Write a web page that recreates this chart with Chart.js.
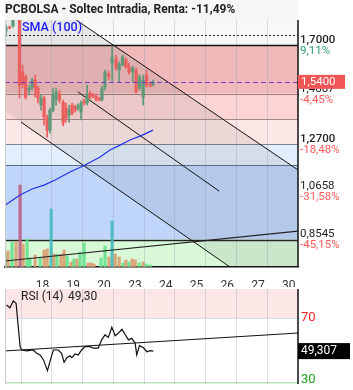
<!DOCTYPE html>
<html>
<head>
<meta charset="utf-8">
<script src="https://cdn.jsdelivr.net/npm/chart.js@4.4.1/dist/chart.umd.min.js"></script>
<style>
  html, body { margin: 0; padding: 0; background: #fff; }
  #wrap { position: relative; width: 353px; height: 390px; overflow: hidden; background: #e9e9e9; }
  #main { position: absolute; left: 0; top: 0; }
  #rsi { position: absolute; left: 0; top: 287px; }
</style>
</head>
<body>
<div id="wrap">
  <canvas id="main" width="353" height="287"></canvas>
  <canvas id="rsi" width="353" height="103"></canvas>
</div>
<script>
// Time axis: one unit = one trading day, grid line at the start of each day
const dayStarts = [0, 1, 2, 3, 4, 5, 6, 7, 8];
const dayLabels = ['18', '19', '20', '23', '24', '25', '26', '27', '30'];

// Hourly candles
const candleX = [-0.49,-0.37,-0.26,-0.05,0.05,0.15,0.26,0.36,0.46,0.55,0.65,0.75,0.85,0.94,1.04,1.14,1.25,1.37,1.46,1.56,1.66,1.76,1.85,1.95,2.05,2.15,2.24,2.34,2.44,2.54,2.63,2.73,2.85,2.96,3.09,3.19,3.30,3.41,3.51,3.63,3.74,3.85,3.97,4.08,4.20,4.29];
const candleOpen = [1.761,1.778,1.783,1.809,1.583,1.561,1.504,1.517,1.548,1.513,1.439,1.470,1.383,1.330,1.417,1.461,1.487,1.452,1.426,1.396,1.439,1.431,1.426,1.409,1.457,1.448,1.491,1.483,1.478,1.470,1.461,1.517,1.574,1.622,1.639,1.591,1.613,1.635,1.604,1.583,1.591,1.513,1.474,1.570,1.530,1.526];
const candleHigh = [1.787,1.783,1.813,1.813,1.613,1.570,1.526,1.557,1.570,1.522,1.483,1.478,1.396,1.426,1.513,1.513,1.504,1.461,1.448,1.439,1.448,1.439,1.444,1.457,1.465,1.526,1.500,1.491,1.487,1.474,1.522,1.591,1.587,1.691,1.657,1.626,1.657,1.644,1.622,1.609,1.600,1.570,1.570,1.591,1.535,1.548];
const candleLow = [1.739,1.770,1.778,1.470,1.513,1.465,1.483,1.504,1.474,1.448,1.417,1.352,1.300,1.317,1.409,1.439,1.448,1.348,1.365,1.365,1.396,1.409,1.417,1.374,1.439,1.439,1.465,1.470,1.457,1.457,1.457,1.504,1.548,1.544,1.591,1.539,1.609,1.600,1.574,1.539,1.491,1.504,1.439,1.517,1.517,1.522];
const candleClose = [1.778,1.774,1.809,1.526,1.530,1.474,1.513,1.548,1.513,1.470,1.470,1.387,1.330,1.417,1.483,1.496,1.461,1.361,1.383,1.417,1.404,1.417,1.435,1.448,1.448,1.487,1.474,1.478,1.461,1.461,1.513,1.583,1.565,1.648,1.600,1.617,1.648,1.604,1.583,1.600,1.496,1.561,1.548,1.526,1.522,1.540];

// Volume (thousands) with bar kind
const volX = [-0.50,-0.42,-0.29,-0.16,-0.03,0.07,0.20,0.29,0.46,0.62,0.75,0.85,0.98,1.07,1.17,1.30,1.40,1.50,1.63,1.72,1.82,1.92,2.05,2.18,2.28,2.37,2.60,2.73,2.86,2.96,3.06,3.19,3.32,3.41,3.51,3.61,3.71,3.84,3.97,4.07,4.20];
const volValue = [14,16,25,25,82,23,28,9,12,9,17,18,58,13,13,13,17,11,5,8,8,15,24,4,4,3,9,21,10,46,13,10,4,7,5,8,7,4,5,3,2];
const volKind = ['g','o','g','o','m','o','g','g','o','g','o','o','t','o','g','o','o','g','o','g','o','g','g','o','o','o','g','g','o','t','o','o','g','o','g','o','o','g','o','g','g'];

// SMA (100)
const smaX = [-0.52,-0.03,0.36,0.75,1.11,1.59,2.02,2.57,2.89,3.22,3.54,3.87,4.29];
const smaValue = [1.004,1.048,1.074,1.091,1.113,1.148,1.174,1.213,1.244,1.265,1.287,1.304,1.330];

// Trend lines (two end points each)
const chanUpperX = [-0.52, 9.0], chanUpperY = [2.018, 1.157];
const chanLowerX = [0, 9.0], chanLowerY = [1.365, 0.530];
const chanLowerFullX = [-0.52, 9.0], chanLowerFullY = [1.413, 0.530];
const chanMidX = [1.85, 6.44], chanMidY = [1.496, 1.065];
const supportX = [-0.52, 9.0], supportY = [0.761, 0.891];

// Price levels
const levels = [1.7, 1.4887, 1.377, 1.27, 1.1775, 1.0658, 0.8545];
const labelLevels = [1.7, 1.4887, 1.27, 1.0658, 0.8545];
const labelPrices = ['1,7000', '1,4887', '1,2700', '1,0658', '0,8545'];
const labelPcts = ['9,11%', '-4,45%', '-18,48%', '-31,58%', '-45,15%'];
const maxPrice = 1.743;
const lastPrice = 1.54;

// RSI
const rsiX = [-0.47,-0.36,-0.25,-0.16,-0.03,0.02,0.19,0.40,0.51,0.62,0.73,0.86,0.94,1.05,1.21,1.32,1.40,1.49,1.59,1.65,1.76,1.86,1.97,2.08,2.24,2.35,2.51,2.62,2.73,2.84,2.95,3.06,3.16,3.28,3.38,3.49,3.60,3.71,3.76,3.85,3.98,4.09,4.20,4.30];
const rsiValue = [78.1,76.4,80.6,79.2,52.1,50.0,49.4,50.0,47.9,46.9,43.8,37.1,42.7,50.0,50.0,47.9,42.3,45.2,46.4,45.2,47.5,46.9,50.0,52.1,52.1,51.1,51.1,56.3,59.4,57.9,64.2,58.9,60.4,62.9,59.8,56.3,57.3,54.2,46.9,52.7,51.4,48.9,49.6,49.3];
const rsiTrendX = [-0.52, 9.0], rsiTrendY = [49.4, 60.6];

// Styles
const GREEN = '#5f9a78', RED = '#ec5f5f';
const volColors = { g: 'rgba(95,225,135,0.85)', o: 'rgba(218,150,105,0.85)', t: 'rgba(70,185,190,0.9)', m: 'rgba(190,95,135,0.9)' };
const zoneColors = ['#f8f8f8', '#f0baba', '#fcd4d4', '#fde6e6', '#e3eefc', '#bfd6fa', '#bfd6fa', '#d8f8d8'];
const levelLineColors = ['#111', '#a07c7c', '#a08a8a', '#7c8290', '#5c6c8c', null, '#222'];
const FONT = 'Roboto';

const pts = (xs, ys) => xs.map((x, i) => ({ x: x, y: ys[i] }));
const candleColor = candleX.map((_, i) => candleClose[i] >= candleOpen[i] ? GREEN : RED);

const xMin = -0.52, xMax = 9.0;
const gridX = {
  type: 'linear', min: xMin, max: xMax, offset: false,
  grid: { color: 'rgba(150,160,190,0.35)', drawTicks: false, offset: false },
  border: { display: false },
  ticks: { display: false },
  afterBuildTicks: s => { s.ticks = dayStarts.map(v => ({ value: v })); },
  afterFit: s => { s.height = 0; }
};

// Background zones, level lines and right-hand labels
const pricePlugin = {
  id: 'pricePlugin',
  beforeDraw(chart) {
    const { ctx, chartArea: a, scales: { y } } = chart;
    ctx.save();
    ctx.fillStyle = '#fff';
    ctx.fillRect(0, 0, chart.width, chart.height);
    ctx.fillStyle = '#f6f6f6';
    ctx.fillRect(a.left, 0, a.right - a.left, a.top);
    const bounds = [a.top].concat(levels.map(v => y.getPixelForValue(v)), [a.bottom]);
    for (let i = 0; i < zoneColors.length; i++) {
      ctx.fillStyle = zoneColors[i];
      ctx.fillRect(a.left, bounds[i], a.right - a.left, bounds[i + 1] - bounds[i]);
    }
    ctx.restore();
  },
  beforeDatasetsDraw(chart) {
    const { ctx, chartArea: a, scales: { y } } = chart;
    ctx.save();
    levels.forEach((v, i) => {
      if (!levelLineColors[i]) return;
      const py = Math.round(y.getPixelForValue(v)) + 0.5;
      ctx.strokeStyle = levelLineColors[i];
      ctx.lineWidth = (i === 0 || i === levels.length - 1) ? 1.5 : 1;
      ctx.beginPath(); ctx.moveTo(a.left, py); ctx.lineTo(a.right, py); ctx.stroke();
    });
    // max price dotted line
    let py = Math.round(y.getPixelForValue(maxPrice)) + 0.5;
    ctx.strokeStyle = '#222'; ctx.lineWidth = 1; ctx.setLineDash([2, 2]);
    ctx.beginPath(); ctx.moveTo(a.left, py); ctx.lineTo(a.right, py); ctx.stroke();
    ctx.restore();
  },
  afterDatasetsDraw(chart) {
    const { ctx, chartArea: a, scales: { y } } = chart;
    ctx.save();
    const py = Math.round(y.getPixelForValue(lastPrice)) + 0.5;
    ctx.strokeStyle = '#7a3cc8'; ctx.lineWidth = 1.2; ctx.setLineDash([5, 3]);
    ctx.beginPath(); ctx.moveTo(a.left, py); ctx.lineTo(a.right, py); ctx.stroke();
    ctx.restore();
  },
  afterDraw(chart) {
    const { ctx, chartArea: a, scales: { y } } = chart;
    ctx.save();
    // plot frame
    ctx.strokeStyle = '#ccc'; ctx.lineWidth = 1;
    ctx.beginPath(); ctx.moveTo(a.left + 0.5, a.top); ctx.lineTo(a.left + 0.5, a.bottom); ctx.stroke();
    ctx.strokeStyle = '#111'; ctx.lineWidth = 1.5;
    ctx.beginPath(); ctx.moveTo(a.right, a.top); ctx.lineTo(a.right, a.bottom); ctx.stroke();
    // SMA legend
    ctx.fillStyle = '#1a1aff';
    ctx.font = '500 12.5px ' + FONT;
    ctx.textBaseline = 'middle';
    ctx.fillText('SMA (100)', 22, 28);
    // level labels
    labelLevels.forEach((v, i) => {
      const py = y.getPixelForValue(v);
      ctx.font = (i === 0 || i === 2 ? '500 ' : '') + '11.5px ' + FONT;
      ctx.fillStyle = '#222';
      ctx.fillText(labelPrices[i], a.right + 2, py - 5);
      ctx.font = '11.5px ' + FONT;
      ctx.fillStyle = labelPcts[i].startsWith('-') ? '#ff5a5a' : '#2a9a6e';
      ctx.fillText(labelPcts[i], a.right + 2, py + 6);
    });
    // last price box
    const ly = y.getPixelForValue(lastPrice);
    ctx.fillStyle = '#f25555';
    ctx.fillRect(a.right, ly - 7, 47, 14);
    ctx.fillStyle = '#fff';
    ctx.font = '11.5px ' + FONT;
    ctx.fillText('1,5400', a.right + 3, ly);
    ctx.restore();
  }
};

new Chart(document.getElementById('main'), {
  type: 'line',
  data: {
    datasets: [
      { // channel shading, upper channel line
        type: 'line', data: pts(chanUpperX, chanUpperY), borderColor: '#111', borderWidth: 1,
        fill: { target: 1 }, backgroundColor: 'rgba(90,90,90,0.1)', pointRadius: 0, order: 5
      },
      {
        type: 'line', data: pts(chanLowerFullX, chanLowerFullY), borderWidth: 0, borderColor: 'rgba(0,0,0,0)',
        pointRadius: 0, fill: false, order: 5
      },
      { type: 'line', data: pts(chanLowerX, chanLowerY), borderColor: '#111', borderWidth: 1, pointRadius: 0, order: 4 },
      { type: 'line', data: pts(chanMidX, chanMidY), borderColor: '#111', borderWidth: 1, pointRadius: 0, order: 4 },
      {
        type: 'bar', yAxisID: 'yv', data: pts(volX, volValue), grouped: false, barThickness: 2.5,
        backgroundColor: volKind.map(k => volColors[k]), order: 8
      },
      { type: 'line', data: pts(supportX, supportY), borderColor: '#222', borderWidth: 1.2, pointRadius: 0, order: 3 },
      { type: 'line', data: pts(smaX, smaValue), borderColor: '#2233ee', borderWidth: 1.2, pointRadius: 0, order: 3 },
      { // wicks
        type: 'bar', data: candleX.map((x, i) => ({ x: x, y: [candleLow[i], candleHigh[i]] })),
        grouped: false, barThickness: 1, backgroundColor: candleColor, order: 2
      },
      { // bodies
        type: 'bar', data: candleX.map((x, i) => ({ x: x, y: [candleOpen[i], candleClose[i]] })),
        grouped: false, barThickness: 2.6, minBarLength: 1, backgroundColor: candleColor, order: 1
      }
    ]
  },
  options: {
    responsive: false,
    animation: false,
    layout: { padding: { left: 5, right: 55, top: 0, bottom: 0 } },
    plugins: {
      legend: { display: false },
      tooltip: { enabled: false },
      title: {
        display: true, text: 'PCBOLSA - Soltec Intradia, Renta: -11,49%', align: 'start',
        color: '#222', font: { family: FONT, size: 12, weight: 'bold' }, padding: { top: 3, bottom: 2.6 }
      }
    },
    scales: {
      x: gridX,
      xl: {
        type: 'linear', min: xMin, max: xMax, position: 'bottom', offset: false,
        grid: { display: false },
        border: { display: true, color: '#111', width: 1.5 },
        ticks: {
          color: '#333', font: { family: FONT, size: 12 }, padding: 4, maxRotation: 0, autoSkip: false,
          callback: (v, i) => dayLabels[i]
        },
        afterBuildTicks: s => { s.ticks = dayStarts.map(v => ({ value: v + 0.7 })); },
        afterFit: s => { s.height = 20; }
      },
      y: { display: false, min: 0.735, max: 1.809 },
      yv: { display: false, min: 0, max: 247 }
    }
  },
  plugins: [pricePlugin]
});

// RSI panel
const rsiPlugin = {
  id: 'rsiPlugin',
  beforeDraw(chart) {
    const { ctx, chartArea: a, scales: { y } } = chart;
    ctx.save();
    ctx.fillStyle = '#fff';
    ctx.fillRect(0, 0, chart.width, chart.height);
    const p70 = y.getPixelForValue(70), p30 = y.getPixelForValue(30);
    ctx.fillStyle = '#fde6e6';
    ctx.fillRect(a.left, a.top, a.right - a.left, p70 - a.top);
    ctx.fillStyle = '#d8f8d8';
    ctx.fillRect(a.left, p30, a.right - a.left, a.bottom - p30);
    ctx.restore();
  },
  beforeDatasetsDraw(chart) {
    const { ctx, chartArea: a, scales: { y } } = chart;
    ctx.save();
    ctx.strokeStyle = 'rgba(150,160,190,0.35)'; ctx.lineWidth = 1;
    [70, 30].forEach(v => {
      const py = Math.round(y.getPixelForValue(v)) + 0.5;
      ctx.beginPath(); ctx.moveTo(a.left, py); ctx.lineTo(a.right, py); ctx.stroke();
    });
    ctx.restore();
  },
  afterDraw(chart) {
    const { ctx, chartArea: a, scales: { y } } = chart;
    ctx.save();
    ctx.strokeStyle = '#ccc'; ctx.lineWidth = 1;
    ctx.beginPath(); ctx.moveTo(a.left + 0.5, a.top); ctx.lineTo(a.left + 0.5, a.bottom); ctx.stroke();
    ctx.strokeStyle = '#111'; ctx.lineWidth = 1.5;
    ctx.beginPath(); ctx.moveTo(a.right, a.top); ctx.lineTo(a.right, a.bottom); ctx.stroke();
    ctx.textBaseline = 'middle';
    ctx.font = '12px ' + FONT;
    ctx.fillStyle = '#222';
    ctx.fillText('RSI (14)', 21, a.top + 8);
    ctx.fillText('49,30', 68, a.top + 8);
    ctx.font = '13px ' + FONT;
    ctx.fillStyle = '#ff2020';
    ctx.fillText('70', a.right + 3, y.getPixelForValue(70));
    ctx.fillStyle = '#22a022';
    ctx.fillText('30', a.right + 3, y.getPixelForValue(30) - 2);
    const last = rsiValue[rsiValue.length - 1];
    const ly = y.getPixelForValue(last);
    ctx.fillStyle = '#000';
    ctx.fillRect(a.right, ly - 8, 52, 16);
    ctx.fillStyle = '#fff';
    ctx.font = '12px ' + FONT;
    ctx.fillText('49,307', a.right + 3, ly);
    ctx.restore();
  }
};

new Chart(document.getElementById('rsi'), {
  type: 'line',
  data: {
    datasets: [
      { data: pts(rsiTrendX, rsiTrendY), borderColor: '#111', borderWidth: 1, pointRadius: 0 },
      { data: pts(rsiX, rsiValue), borderColor: '#111', borderWidth: 1.2, pointRadius: 0, tension: 0 }
    ]
  },
  options: {
    responsive: false,
    animation: false,
    layout: { padding: { left: 5, right: 55, top: 2, bottom: 6 } },
    plugins: { legend: { display: false }, tooltip: { enabled: false } },
    scales: {
      x: gridX,
      y: { display: false, min: 28.75, max: 88.1 }
    }
  },
  plugins: [rsiPlugin]
});
</script>
</body>
</html>
